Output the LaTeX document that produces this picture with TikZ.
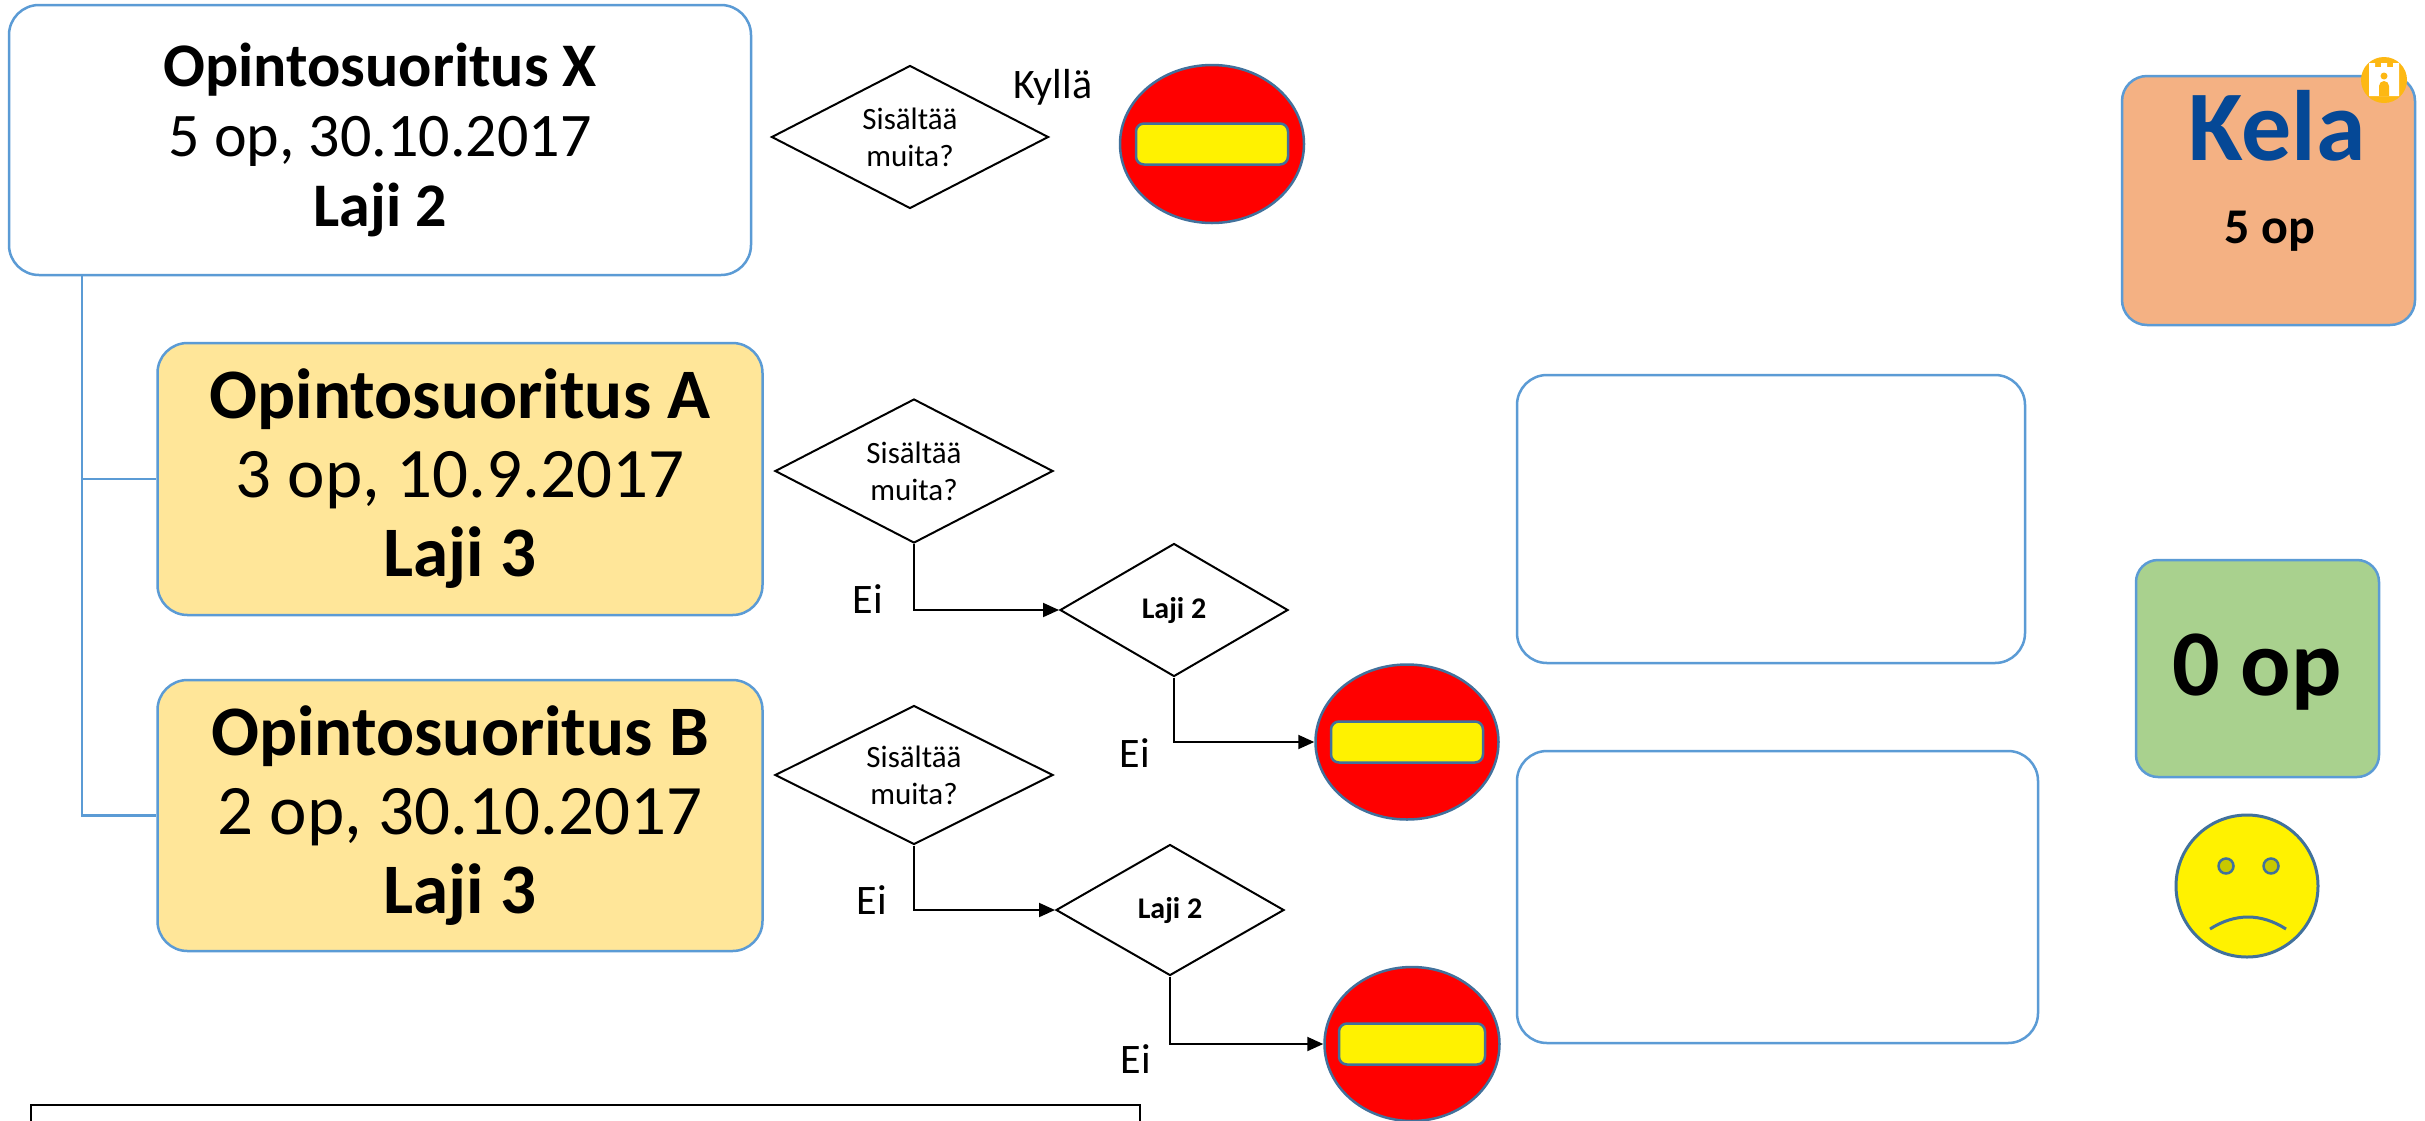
\documentclass[tikz,border=0pt]{standalone}
\usepackage{fontspec}
\setmainfont{Carlito}
\usetikzlibrary{shapes.geometric,arrows.meta}
\definecolor{boxblue}{HTML}{5B9BD5}
\definecolor{edgeblue}{HTML}{41719C}
\definecolor{goldfill}{HTML}{FFE699}
\definecolor{greenfill}{HTML}{A9D18E}
\definecolor{kelafill}{HTML}{F4B183}
\definecolor{kelablue}{RGB}{5,72,150}
\definecolor{kelagold}{RGB}{253,184,19}
\definecolor{eyefill}{RGB}{200,200,0}
\tikzset{
  course/.style={draw=boxblue, line width=2.5pt, rounded corners=30pt, inner sep=0pt, align=center},
  emptybox/.style={draw=boxblue, line width=2.5pt, rounded corners=30pt, inner sep=0pt},
  question/.style={diamond, draw=black, line width=2pt, inner sep=0pt, shape aspect=1.94, align=center,
     font=\fontsize{31}{37}\selectfont},
  lajidia/.style={diamond, draw=black, line width=2pt, inner sep=0pt, shape aspect=1.7,
     font=\bfseries\fontsize{30}{36}\selectfont},
  stopsign/.style={ellipse, fill=red, draw=edgeblue, line width=2.5pt, inner sep=0pt},
  stopbar/.style={rectangle, rounded corners=8pt, fill=yellow, draw=edgeblue, line width=2.5pt,
     inner sep=0pt, minimum width=152pt, minimum height=41pt},
  lbl/.style={anchor=base, inner sep=0pt, font=\fontsize{42}{48}\selectfont},
  flow/.style={draw=black, line width=2pt, -{Triangle[length=16pt,width=14pt]}},
  tree/.style={draw=boxblue, line width=2.5pt},
}
\begin{document}
\begin{tikzpicture}[x=1pt,y=-1pt]
\clip (0,0) rectangle (2425,1120);
\fill[white] (0,0) rectangle (2425,1120);

% course boxes
\node[course, minimum width=742pt, minimum height=270pt, font=\fontsize{62}{70}\selectfont]
  (X) at (380,140) {\textbf{Opintosuoritus X}\\5 op, 30.10.2017\\\textbf{Laji 2}};
\node[course, fill=goldfill, minimum width=605pt, minimum height=272pt, font=\fontsize{71}{79}\selectfont]
  (A) at (460,479) {\textbf{Opintosuoritus A}\\3 op, 10.9.2017\\\textbf{Laji 3}};
\node[course, fill=goldfill, minimum width=605pt, minimum height=271pt, font=\fontsize{71}{79}\selectfont]
  (B) at (460,815.5) {\textbf{Opintosuoritus B}\\2 op, 30.10.2017\\\textbf{Laji 3}};

% tree connector
\coordinate (trunk) at (82,0);
\draw[tree] (X.south -| trunk) |- (B.west);
\draw[tree] (X.south -| trunk) |- (A.west);

% question diamonds
\node[question, minimum width=277pt, minimum height=143pt] (D1) at (910,137) {Sisältää\\muita?};
\node[question, minimum width=278pt, minimum height=144pt] (D2) at (914,471) {Sisältää\\muita?};
\node[question, minimum width=278pt, minimum height=139pt] (D3) at (914,775) {Sisältää\\muita?};
\node[lajidia, minimum width=228pt, minimum height=133pt] (L2a) at (1174,610) {Laji 2};
\node[lajidia, minimum width=228pt, minimum height=131pt] (L2b) at (1170,910) {Laji 2};

% stop signs
\node[stopsign, minimum width=184pt, minimum height=158pt] (S1) at (1212,144) {};
\node[stopbar] (S1bar) at (S1.center) {};
\node[stopsign, minimum width=183pt, minimum height=155pt] (S2) at (1407,742) {};
\node[stopbar] (S2bar) at (S2.center) {};
\node[stopsign, minimum width=175pt, minimum height=154pt] (S3) at (1412,1044) {};
\node[stopbar, minimum width=146pt] (S3bar) at (S3.center) {};

% labels
\node[lbl] (kylla) at (1053,98) {Kyllä};
\node[lbl] (ei1) at (868,613) {Ei};
\node[lbl] (ei2) at (1135,767) {Ei};
\node[lbl] (ei3) at (872,914) {Ei};
\node[lbl] (ei4) at (1136,1073) {Ei};

% flow connectors
\draw[flow] (D2.south) |- (L2a.west);
\draw[flow] (L2a.south) |- (S2.west);
\draw[flow] (D3.south) |- (L2b.west);
\draw[flow] (L2b.south) |- (S3.west);

% empty boxes
\node[emptybox, minimum width=508pt, minimum height=288pt] (E1) at (1771,519) {};
\node[emptybox, minimum width=521pt, minimum height=292pt] (E2) at (1777.5,897) {};

% Kela box
\node[emptybox, rounded corners=25pt, fill=kelafill, minimum width=293pt, minimum height=249pt] (K) at (2268.5,200.5) {};
\node[anchor=base, inner sep=0pt, text=kelablue, font=\bfseries\fontsize{100}{110}\selectfont] (kelatext) at (2277,160) {Kela};
\node[anchor=base, inner sep=0pt, font=\bfseries\fontsize{50}{60}\selectfont] (kelaop) at (2270,243) {5 op};
\node[circle, fill=kelagold, minimum size=46pt, inner sep=0pt] (logo) at (2384,80) {};
\fill[white] (2369,96) -- (2369,63) -- (2375,63) -- (2375,67) -- (2381,67) -- (2381,63) -- (2387,63)
  -- (2387,67) -- (2393,67) -- (2393,63) -- (2399,63) -- (2399,96) -- cycle;
\fill[kelagold] (2379,96) -- (2379,86) arc[start angle=180, end angle=360, radius=5] -- (2389,96) -- cycle;
\fill[kelagold] (2384,76) circle[radius=3.5];

% result box
\node[emptybox, rounded corners=22pt, fill=greenfill, minimum width=243pt, minimum height=217pt] (G) at (2257.5,668.5) {};
\node[anchor=base, inner sep=0pt, font=\bfseries\fontsize{94}{100}\selectfont] (gtext) at (2257,695) {0 op};

% sad face
\node[circle, fill=yellow, draw=edgeblue, line width=3pt, minimum size=142pt, inner sep=0pt] (face) at (2247,886) {};
\node[circle, fill=eyefill, draw=edgeblue, line width=2.5pt, minimum size=15pt, inner sep=0pt] (eyeL) at (2226,866) {};
\node[circle, fill=eyefill, draw=edgeblue, line width=2.5pt, minimum size=15pt, inner sep=0pt] (eyeR) at (2271,866) {};
\draw[edgeblue, line width=3pt] (2210,929) .. controls (2235,913) and (2261,913) .. (2286,929);

% bottom note box
\node[draw=black, line width=2.5pt, inner sep=0pt, minimum width=1109pt, minimum height=70pt] (note) at (585.5,1140) {};
\end{tikzpicture}
\end{document}
